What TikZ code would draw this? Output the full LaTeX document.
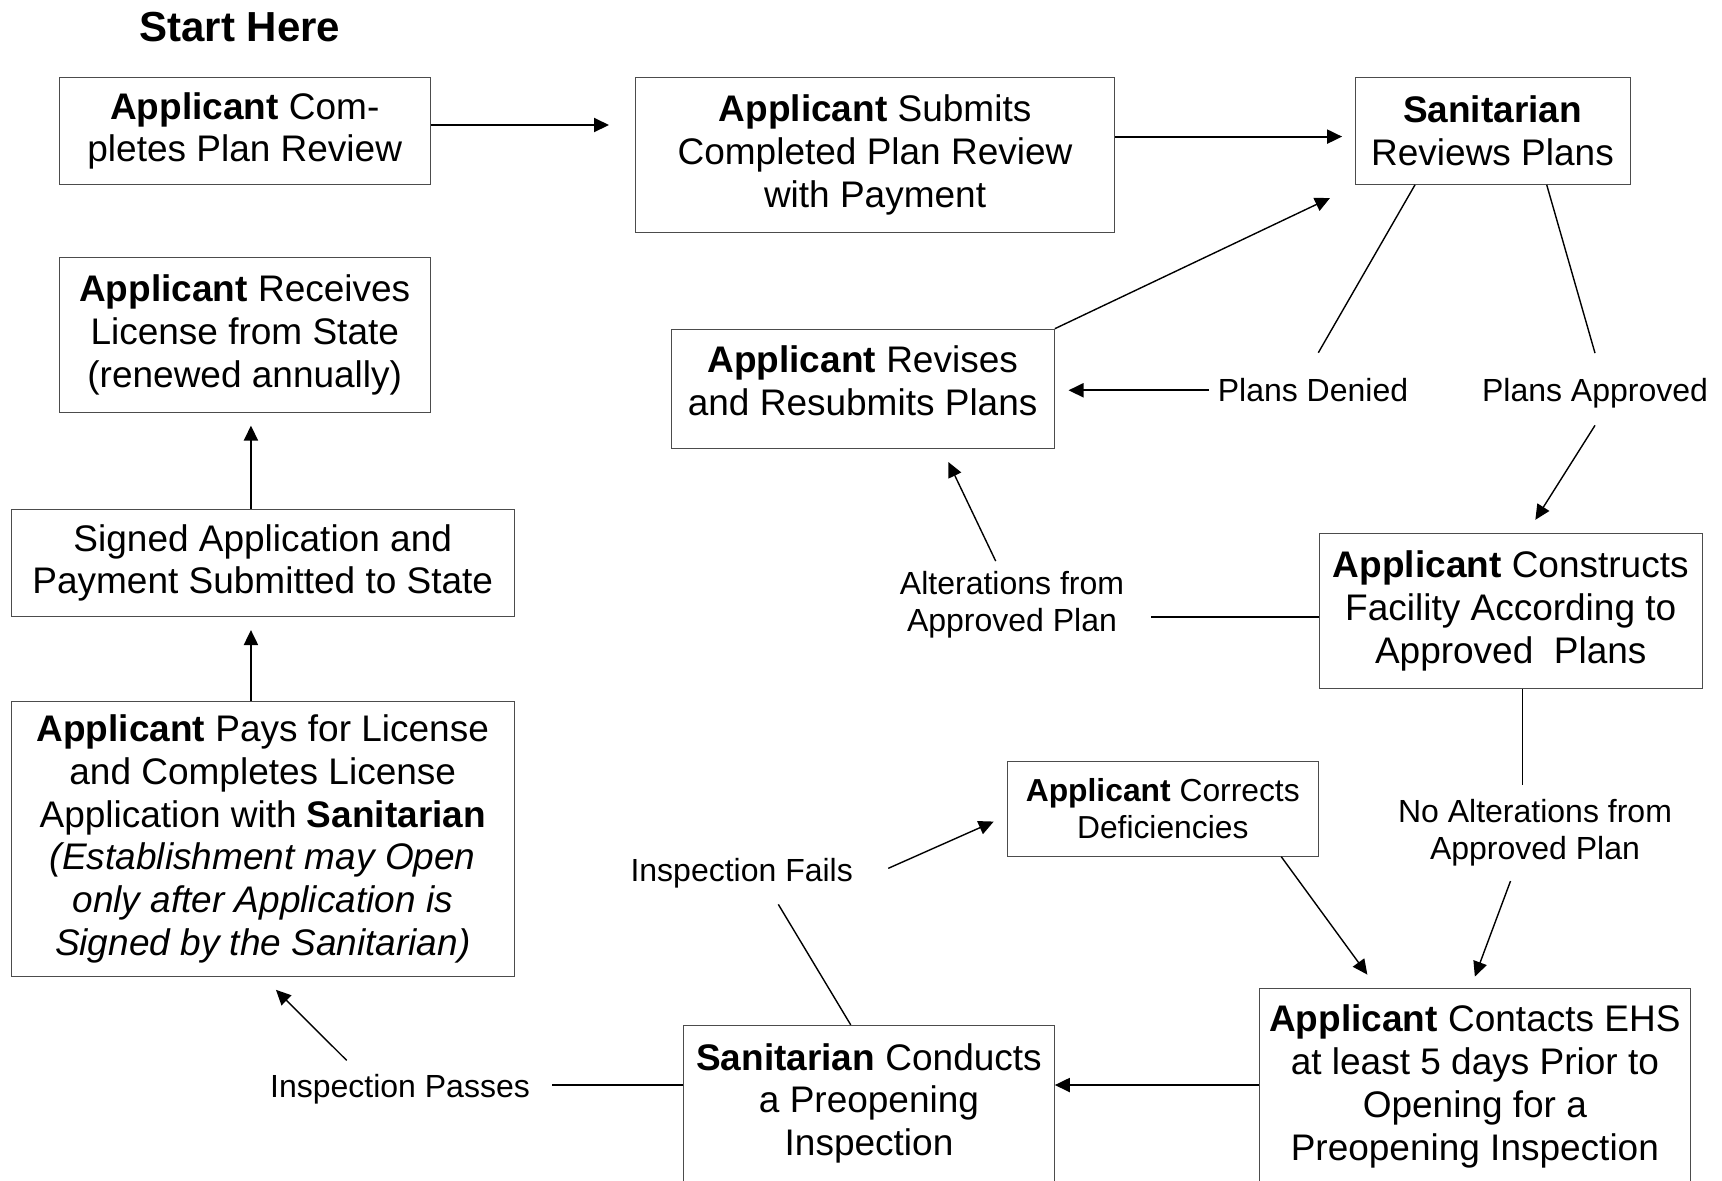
\documentclass[tikz,border=0pt]{standalone}
\usepackage{fontspec}
\setmainfont{Liberation Sans}
\usepackage{tikz}
\usetikzlibrary{arrows.meta,calc}
\tikzset{
  plan box/.style={draw=black!70, line width=0.5pt, align=center, inner sep=0pt,
    font=\fontsize{18.5}{21.4}\selectfont},
  tag/.style={inner sep=0pt, align=center, font=\fontsize{16}{18.5}\selectfont},
  link/.style={line width=0.7pt},
  wide/.style={line width=1pt},
  flow/.style={link, -{Triangle[length=7.5pt,width=7pt]}},
}

\begin{document}
\begin{tikzpicture}[x=0.5pt,y=-0.5pt]
    \useasboundingbox (0,0) rectangle (1722,1180);

    %Boxes
    \node[anchor=base, font=\bfseries\fontsize{21}{25}\selectfont] (start) at (240,41.4) {Start Here};

    \node[plan box, minimum width=185.75pt, minimum height=53.4pt] (compl) at (244.75,130.9)
        {\textbf{Applicant} Com-\\pletes Plan Review};
    \node[plan box, minimum width=239.65pt, minimum height=77.5pt] (submit) at (875.05,155)
        {\textbf{Applicant} Submits\\Completed Plan Review\\with Payment};
    \node[plan box, minimum width=137.5pt, minimum height=53.4pt] (review) at (1492.5,130.9)
        {\textbf{Sanitarian}\\Reviews Plans};
    \node[plan box, minimum width=185.75pt, minimum height=77.5pt] (receive) at (244.75,334.8)
        {\textbf{Applicant} Receives\\License from State\\(renewed annually)};
    \node[plan box, text depth=8pt, minimum width=191.65pt, minimum height=59.65pt] (revise) at (862.65,388.85)
        {\textbf{Applicant} Revises\\and Resubmits Plans};
    \node[plan box, minimum width=251.75pt, minimum height=53.45pt] (signed) at (262.75,562.85)
        {Signed Application and\\Payment Submitted to State};
    \node[plan box, minimum width=191.25pt, minimum height=77.55pt] (construct) at (1510.75,611.05)
        {\textbf{Applicant} Constructs\\Facility According to\\Approved\ \ Plans};
    \node[plan box, minimum width=251.75pt, minimum height=137.5pt] (pays) at (262.75,838.9)
        {\textbf{Applicant} Pays for License\\and Completes License\\Application with \textbf{Sanitarian}\\
         \textit{(Establishment may Open}\\\textit{only after Application is}\\\textit{Signed by the Sanitarian)}};
    \node[plan box, font=\fontsize{15.9}{18.2}\selectfont, minimum width=155.55pt, minimum height=47.45pt]
        (correct) at (1162.75,808.75) {\textbf{Applicant} Corrects\\Deficiencies};
    \node[plan box, minimum width=215.15pt, minimum height=98pt] (contact) at (1474.85,1086.6)
        {\textbf{Applicant} Contacts EHS\\at least 5 days Prior to\\Opening for a\\Preopening Inspection};
    \node[plan box, minimum width=185.3pt, minimum height=78pt] (conduct) at (869,1103.3)
        {\textbf{Sanitarian} Conducts\\a Preopening\\Inspection};

    % Labels
    \node[tag, anchor=base] (denied) at (1313,401.7) {Plans Denied};
    \node[tag, anchor=base] (approved) at (1595,401.7) {Plans Approved};
    \node[tag] (alter) at (1012,604.5) {Alterations from\\Approved Plan};
    \node[tag] (noalt) at (1535,832.8) {No Alterations from\\Approved Plan};
    \node[tag, anchor=base] (failed) at (741.7,881.7) {Inspection Fails};
    \node[tag, anchor=base] (passed) at (400,1097.3) {Inspection Passes};
    \coordinate (lvl) at (0,1085);

    % Plan review
    \draw[flow, wide] ([yshift=2.95pt]compl.east) -- ([xshift=-12.95pt,yshift=2.95pt]compl.east -| submit.west);
    \draw[flow, wide] ([yshift=-2.85pt]review.west -| submit.east) -- ([xshift=-6.2pt,yshift=-2.85pt]review.west);
    \draw[link] ([xshift=-38.75pt]review.south) -- ([xshift=2.65pt,yshift=12.7pt]denied.north);
    \draw[link] ([xshift=27.1pt]review.south) -- ([yshift=12.5pt]approved.north);
    \draw[flow, wide] ([xshift=-4.1pt]denied.west) -- ([xshift=6.85pt]denied.west -| revise.east);
    \draw[flow] (revise.north east) -- ([xshift=-12.25pt,yshift=-6.6pt]review.south west);
    \draw[flow] ([yshift=-8.3pt]approved.south) -- ([xshift=12.3pt,yshift=6.6pt]construct.north);

    % Construction
    \draw[link, wide] ([yshift=-2.8pt]construct.west) -- ([xshift=13.35pt,yshift=-2.8pt]alter.east |- construct.west);
    \draw[flow] ([xshift=-8.15pt,yshift=4.8pt]alter.north) -- ([xshift=42.85pt,yshift=-6.5pt]revise.south);
    \draw[link] ([xshift=5.95pt]construct.south) -- ([xshift=5.95pt,yshift=7pt]construct.south |- noalt.north);
    \draw[flow] ([xshift=-12.25pt,yshift=-7.2pt]noalt.south) -- ([yshift=5.75pt]contact.north);
    \draw[flow] ([xshift=59.25pt]correct.south) -- ([xshift=-53.75pt,yshift=6.75pt]contact.north);

    % Inspection
    \draw[flow, wide] (contact.west |- lvl) -- (conduct.east |- lvl);
    \draw[link] ([xshift=-9.15pt]conduct.north) -- ([xshift=18.3pt,yshift=-7.8pt]failed.south);
    \draw[flow] ([xshift=17.5pt,yshift=2.55pt]failed.east) -- ([xshift=-6.5pt,yshift=-6.4pt]correct.west);
    \draw[link, wide] (conduct.west |- lvl) -- ([xshift=10.85pt]passed.east |- lvl);
    \draw[flow] ([xshift=-26.65pt,yshift=6.65pt]passed.north) -- ([xshift=6.6pt,yshift=-6.45pt]pays.south);

    % License
    \draw[flow, wide] ([xshift=-5.9pt]pays.north) -- ([xshift=-5.9pt,yshift=-6.6pt]pays.north |- signed.south);
    \draw[flow, wide] ([xshift=-5.9pt]signed.north) -- ([xshift=-5.9pt,yshift=-6.4pt]signed.north |- receive.south);
\end{tikzpicture}
\end{document}
